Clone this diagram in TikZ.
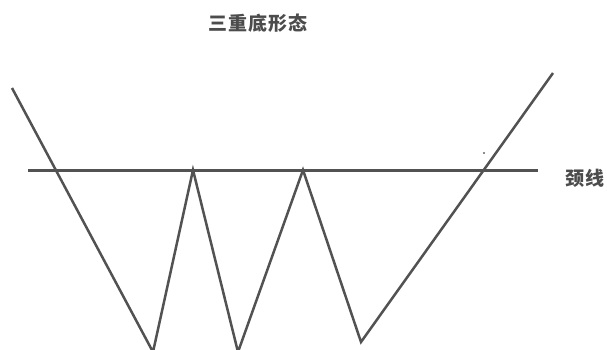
\documentclass[tikz,border=0pt]{standalone}
\usepackage{fontspec}
\newfontfamily\cjk[LetterSpace=6]{Noto Sans CJK SC}
\begin{document}
\begin{tikzpicture}[x=1pt,y=-1pt,
  curve/.style={draw=black!68,line width=2.5pt,line join=miter},
  lbl/.style={font=\cjk\bfseries\fontsize{19}{19}\selectfont,text=black!70,inner sep=0pt}]
\useasboundingbox (0,0) rectangle (607,349);
\coordinate (s) at (12,88);
\coordinate (t1) at (153,352);
\coordinate (p1) at (193,170);
\coordinate (t2) at (238,352);
\coordinate (p2) at (303,170);
\coordinate (t3) at (361,342);
\coordinate (e) at (553,73);
\coordinate (nl) at (28,170.5);
\coordinate (nr) at (538,170.5);
\draw[curve] (nl) -- (nr);
\draw[curve] (s) -- (t1) -- (p1) -- (t2) -- (p2) -- (t3) -- (e);
\fill[black!60] (484,153) circle (1.1pt);
\node[lbl] (title) at (258,23) {三重底形态};
\node[lbl] (neck) at (585,178) {颈线};
\end{tikzpicture}
\end{document}
